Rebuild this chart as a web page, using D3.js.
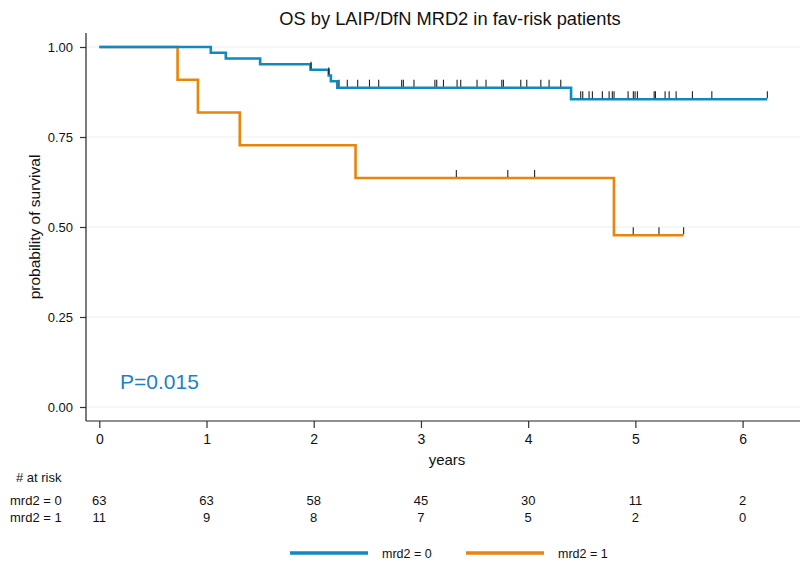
<!DOCTYPE html>
<html>
<head>
<meta charset="utf-8">
<script src="https://cdn.jsdelivr.net/npm/d3@7"></script>
<style>
  html, body { margin: 0; padding: 0; background: #fff; }
  svg { display: block; font-family: "Liberation Sans", Arial, Helvetica, sans-serif; }
</style>
</head>
<body>
<svg id="chart" width="804" height="561"></svg>
<script>
// Kaplan-Meier steps: time (years) where each step starts and survival level
const groups = ["mrd2 = 0", "mrd2 = 1"];
const colors = ["#1089c0", "#e8850c"];

const stepTimes0 = [0, 1.04, 1.18, 1.50, 1.97, 2.14, 2.16, 2.22, 4.40];
const stepSurv0  = [1.000, 0.984, 0.968, 0.952, 0.937, 0.921, 0.905, 0.887, 0.855];
const endTime0 = 6.23;

const stepTimes1 = [0, 0.73, 0.92, 1.31, 2.39, 4.80];
const stepSurv1  = [1.000, 0.909, 0.818, 0.727, 0.636, 0.477];
const endTime1 = 5.45;

// censoring times (years)
const censor0 = [1.975, 2.14, 2.236, 2.313, 2.41, 2.52, 2.606, 2.82, 2.836, 2.935,
  3.13, 3.147, 3.21, 3.337, 3.371, 3.523, 3.607, 3.754, 3.769, 3.931, 3.987,
  4.118, 4.195, 4.304, 4.49, 4.509, 4.568, 4.599, 4.692, 4.755, 4.785, 4.801,
  4.932, 4.981, 4.997, 5.019, 5.175, 5.187, 5.277, 5.315, 5.38, 5.532, 5.713, 6.231];
const censor1 = [3.33, 3.81, 4.06, 4.98, 5.22, 5.45];

// number at risk table
const riskYears = [0, 1, 2, 3, 4, 5, 6];
const atRisk0 = [63, 63, 58, 45, 30, 11, 2];
const atRisk1 = [11, 9, 8, 7, 5, 2, 0];

const yTicks = [0, 0.25, 0.5, 0.75, 1];
const xTicks = [0, 1, 2, 3, 4, 5, 6];
const pValueText = "P=0.015";

const svg = d3.select("#chart");

const x = d3.scaleLinear().domain([0, 6]).range([99.3, 742.6]);
const y = d3.scaleLinear().domain([0, 1]).range([407, 47]);

const axisLeftX = 86, axisBottomY = 421, rightEdge = 800, topEdge = 33;

// gridlines
svg.append("g").selectAll("line").data(yTicks).join("line")
  .attr("x1", axisLeftX).attr("x2", rightEdge)
  .attr("y1", d => y(d)).attr("y2", d => y(d))
  .attr("stroke", "#eaf0f3").attr("stroke-width", 1.2);

// y axis
const yAxis = svg.append("g").attr("transform", `translate(${axisLeftX},0)`)
  .call(d3.axisLeft(y).tickValues(yTicks).tickFormat(d3.format(".2f")).tickSize(6).tickPadding(7));
yAxis.select(".domain").remove();
yAxis.append("line").attr("x1", 0).attr("x2", 0).attr("y1", topEdge).attr("y2", axisBottomY)
  .attr("stroke", "#222").attr("stroke-width", 1.2);
yAxis.selectAll(".tick line").attr("stroke", "#333").attr("stroke-width", 1.2);
yAxis.selectAll(".tick text").attr("font-size", 13).attr("fill", "#111")
  .attr("font-family", "Liberation Sans, Arial, sans-serif");

// x axis
const xAxis = svg.append("g").attr("transform", `translate(0,${axisBottomY})`)
  .call(d3.axisBottom(x).tickValues(xTicks).tickFormat(d3.format("d")).tickSize(7).tickPadding(6));
xAxis.select(".domain").remove();
xAxis.append("line").attr("x1", axisLeftX).attr("x2", rightEdge).attr("y1", 0).attr("y2", 0)
  .attr("stroke", "#222").attr("stroke-width", 1.2);
xAxis.selectAll(".tick line").attr("stroke", "#333").attr("stroke-width", 1.2);
xAxis.selectAll(".tick text").attr("font-size", 14).attr("fill", "#111")
  .attr("font-family", "Liberation Sans, Arial, sans-serif");

// axis titles
svg.append("text").attr("x", 447).attr("y", 465).attr("text-anchor", "middle")
  .attr("font-size", 15).attr("fill", "#111").text("years");
svg.append("text").attr("transform", "translate(40,227) rotate(-90)").attr("text-anchor", "middle")
  .attr("font-size", 15.5).attr("fill", "#111").text("probability of survival");

// title
svg.append("text").attr("x", 450).attr("y", 25).attr("text-anchor", "middle")
  .attr("font-size", 18.3).attr("fill", "#111").text("OS by LAIP/DfN MRD2 in fav-risk patients");

// survival curves
function stepPoints(times, surv, end) {
  const pts = times.map((t, i) => ({ t, s: surv[i] }));
  pts.push({ t: end, s: surv[surv.length - 1] });
  return pts;
}
function survAt(times, surv, t) {
  let s = surv[0];
  for (let i = 0; i < times.length; i++) if (times[i] <= t) s = surv[i];
  return s;
}
const line = d3.line().x(d => x(d.t)).y(d => y(d.s)).curve(d3.curveStepAfter);

const series = [
  { times: stepTimes0, surv: stepSurv0, end: endTime0, cens: censor0, color: colors[0] },
  { times: stepTimes1, surv: stepSurv1, end: endTime1, cens: censor1, color: colors[1] }
];

// draw mrd2 = 1 first so the mrd2 = 0 line sits on top where they overlap
[series[1], series[0]].forEach(sr => {
  svg.append("path").datum(stepPoints(sr.times, sr.surv, sr.end))
    .attr("d", line).attr("fill", "none").attr("stroke", sr.color)
    .attr("stroke-width", 2.6).attr("stroke-linejoin", "miter");
});
series.forEach(sr => {
  svg.append("g").selectAll("line").data(sr.cens).join("line")
    .attr("x1", d => x(d)).attr("x2", d => x(d))
    .attr("y1", d => y(survAt(sr.times, sr.surv, d)) - 1)
    .attr("y2", d => y(survAt(sr.times, sr.surv, d)) - 8)
    .attr("stroke", "#222").attr("stroke-width", 1.1);
});

// p-value
svg.append("text").attr("x", 120).attr("y", 389).attr("font-size", 21)
  .attr("fill", "#1f7fc6").text(pValueText);

// number at risk
svg.append("text").attr("x", 16).attr("y", 482).attr("font-size", 13).attr("fill", "#111").text("# at risk");
const riskRows = [atRisk0, atRisk1];
riskRows.forEach((row, r) => {
  const yy = 505 + r * 17;
  svg.append("text").attr("x", 10).attr("y", yy).attr("font-size", 13).attr("fill", "#111").text(groups[r]);
  svg.append("g").selectAll("text").data(row).join("text")
    .attr("x", (d, i) => x(riskYears[i])).attr("y", yy)
    .attr("text-anchor", "middle").attr("font-size", 13).attr("fill", "#111")
    .text(d => d);
});

// legend
const legendItems = [
  { label: groups[0], color: colors[0], x0: 290 },
  { label: groups[1], color: colors[1], x0: 466 }
];
const lg = svg.append("g");
legendItems.forEach(it => {
  lg.append("line").attr("x1", it.x0).attr("x2", it.x0 + 78).attr("y1", 553).attr("y2", 553)
    .attr("stroke", it.color).attr("stroke-width", 3.5);
  lg.append("text").attr("x", it.x0 + 92).attr("y", 558).attr("font-size", 12.5)
    .attr("fill", "#111").text(it.label);
});
</script>
</body>
</html>
